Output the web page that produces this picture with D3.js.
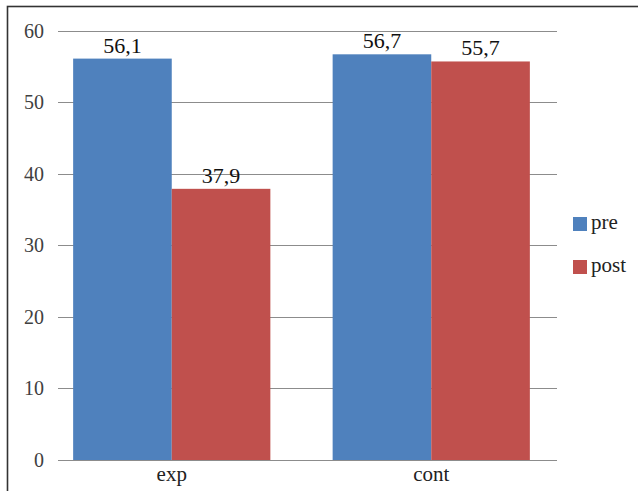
<!DOCTYPE html>
<html>
<head>
<meta charset="utf-8">
<script src="https://cdn.jsdelivr.net/npm/d3@7"></script>
<style>
  html, body { margin: 0; padding: 0; background: #fff; }
  svg { display: block; }
</style>
</head>
<body>
<svg id="chart" width="638" height="491" font-family="Liberation Serif, DejaVu Serif, serif"></svg>
<script>
// Group means before and after, per condition
const categories = ["exp", "cont"];
const seriesNames = ["pre", "post"];
const preValues = [56.1, 56.7];
const postValues = [37.9, 55.7];
const yTicks = [0, 10, 20, 30, 40, 50, 60];
const colors = ["#4F81BD", "#C0504D"];

const series = [preValues, postValues];
const svg = d3.select("#chart");
const FONT = "Liberation Serif, DejaVu Serif, serif";

// outer frame (runs past the right and bottom edges)
svg.append("rect")
  .attr("x", 7.5).attr("y", 6.5)
  .attr("width", 700).attr("height", 600)
  .attr("fill", "none").attr("stroke", "#333").attr("stroke-width", 1.6);

const gridLeft = 58, gridRight = 557;
const y = d3.scaleLinear().domain([0, 60]).range([460, 30.7]);
const x0 = d3.scaleBand().domain(categories).range([42, 561])
  .paddingInner(0.24).paddingOuter(0.12);
const x1 = d3.scaleBand().domain(seriesNames).range([0, x0.bandwidth()]);

// horizontal gridlines + tick labels
const yAxis = svg.append("g");
yAxis.selectAll("line").data(yTicks).join("line")
  .attr("x1", gridLeft).attr("x2", gridRight)
  .attr("y1", d => Math.round(y(d)) + 0.5).attr("y2", d => Math.round(y(d)) + 0.5)
  .attr("stroke", "#8c8c8c").attr("stroke-width", 1.2);
yAxis.selectAll("text").data(yTicks).join("text")
  .attr("x", 44).attr("y", d => y(d))
  .attr("dy", "0.35em")
  .attr("text-anchor", "end")
  .attr("font-family", FONT)
  .attr("font-size", 20)
  .attr("fill", "#404040")
  .text(d => d);

// bars
const groups = svg.append("g").selectAll("g").data(categories).join("g")
  .attr("transform", c => `translate(${x0(c)},0)`);

const cells = (c, i) => seriesNames.map((s, j) => ({ s, v: series[j][i], j }));

groups.selectAll("rect").data(cells).join("rect")
  .attr("x", d => x1(d.s))
  .attr("width", x1.bandwidth())
  .attr("y", d => y(d.v))
  .attr("height", d => y(0) - y(d.v))
  .attr("fill", d => colors[d.j]);

// value labels
groups.selectAll("text.val").data(cells).join("text")
  .attr("class", "val")
  .attr("x", d => x1(d.s) + x1.bandwidth() / 2)
  .attr("y", d => y(d.v) - 6)
  .attr("text-anchor", "middle")
  .attr("font-family", FONT)
  .attr("font-size", 22)
  .attr("fill", "#111")
  .text(d => d3.format(".1f")(d.v).replace(".", ","));

// category labels
svg.append("g").selectAll("text").data(categories).join("text")
  .attr("x", c => x0(c) + x0.bandwidth() / 2)
  .attr("y", 481)
  .attr("text-anchor", "middle")
  .attr("font-family", FONT)
  .attr("font-size", 21)
  .attr("fill", "#222")
  .text(c => c);

// legend
const legend = svg.append("g").selectAll("g").data(seriesNames).join("g")
  .attr("transform", (d, i) => `translate(573,${217 + i * 43})`);
legend.append("rect")
  .attr("width", 14).attr("height", 14)
  .attr("fill", (d, i) => colors[i]);
legend.append("text")
  .attr("x", 18).attr("y", 12)
  .attr("font-family", FONT)
  .attr("font-size", 21)
  .attr("fill", "#222")
  .text(d => d);
</script>
</body>
</html>
